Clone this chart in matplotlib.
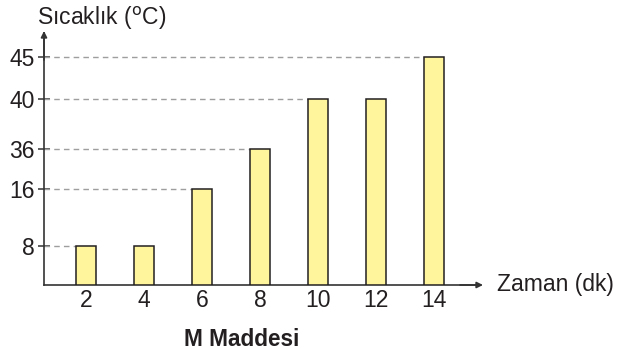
import numpy as np
import matplotlib
matplotlib.use("Agg")
import matplotlib.pyplot as plt

plt.rcParams['font.family'] = ['Liberation Sans', 'DejaVu Sans']

times = [2, 4, 6, 8, 10, 12, 14]
temps = [8, 8, 16, 36, 40, 40, 45]
y_ticks = [8, 16, 36, 40, 45]

# non-linear visual spacing of the y axis (value -> level)
scale_vals = [0, 8, 16, 36, 40, 45, 50]
scale_lvls = [0, 39, 96, 136, 186, 228, 252]

def fwd(v):
    return np.interp(v, scale_vals, scale_lvls)

def inv(l):
    return np.interp(l, scale_lvls, scale_vals)

fig = plt.figure(figsize=(6.19, 3.49), dpi=100)
W, H = 619, 349
x0, x1, yb, yt = 44, 478, 285, 33
ax = fig.add_axes([x0 / W, (H - yb) / H, (x1 - x0) / W, (yb - yt) / H])
ax.set_yscale('function', functions=(fwd, inv))
xmin = 2 - (86 - x0) / 29.0
xmax = xmin + (x1 - x0) / 29.0
ax.set_xlim(xmin, xmax)
ax.set_ylim(0, 50)

bw = 0.69
ax.bar(times, temps, width=bw, color='#FFF59D', edgecolor='#231F20',
       linewidth=1.1, zorder=3)

# dashed guides from the axis to the first bar reaching each value
for t in y_ticks:
    first = next(x for x, v in zip(times, temps) if v == t)
    ax.plot([xmin, first - bw / 2], [t, t], ls=(0, (4, 3)), color='#9E9E9E',
            lw=1.0, zorder=2)

for s in ['top', 'right']:
    ax.spines[s].set_visible(False)
for s in ['left', 'bottom']:
    ax.spines[s].set_color('#333333')
    ax.spines[s].set_linewidth(1.2)

ax.set_yticks(y_ticks)
ax.set_yticks([], minor=True)
ax.set_yticklabels([str(t) for t in y_ticks])
ax.set_xticks(times)
ax.set_xticklabels([str(t) for t in times])
ax.tick_params(axis='y', direction='inout', length=9, width=1.1, colors='#333333',
               labelsize=16.5, labelcolor='#231F20', pad=2)
ax.tick_params(axis='x', length=0, labelsize=16.5, labelcolor='#231F20', pad=3)

# arrows
ax.annotate('', xy=(x0 / W, (H - 31) / H), xytext=(x0 / W, (H - 60) / H),
            xycoords='figure fraction',
            arrowprops=dict(arrowstyle='-|>', color='#333333', lw=1.2,
                            mutation_scale=9, shrinkA=0, shrinkB=0))
ax.annotate('', xy=(483 / W, (H - yb) / H), xytext=(460 / W, (H - yb) / H),
            xycoords='figure fraction',
            arrowprops=dict(arrowstyle='-|>', color='#333333', lw=1.2,
                            mutation_scale=9, shrinkA=0, shrinkB=0))

fig.text(37 / W, (H - 18) / H, 'Sıcaklık ($^{\\mathrm{o}}$C)', fontsize=16.5,
         color='#231F20', va='center', ha='left')
fig.text(497 / W, (H - yb) / H, 'Zaman (dk)', fontsize=16.5, color='#231F20',
         va='center', ha='left')
fig.text(242 / W, (H - 339) / H, 'M Maddesi', fontsize=16.3, fontweight='bold',
         color='#231F20', va='center', ha='center')

fig.savefig('out.png', dpi=100)
